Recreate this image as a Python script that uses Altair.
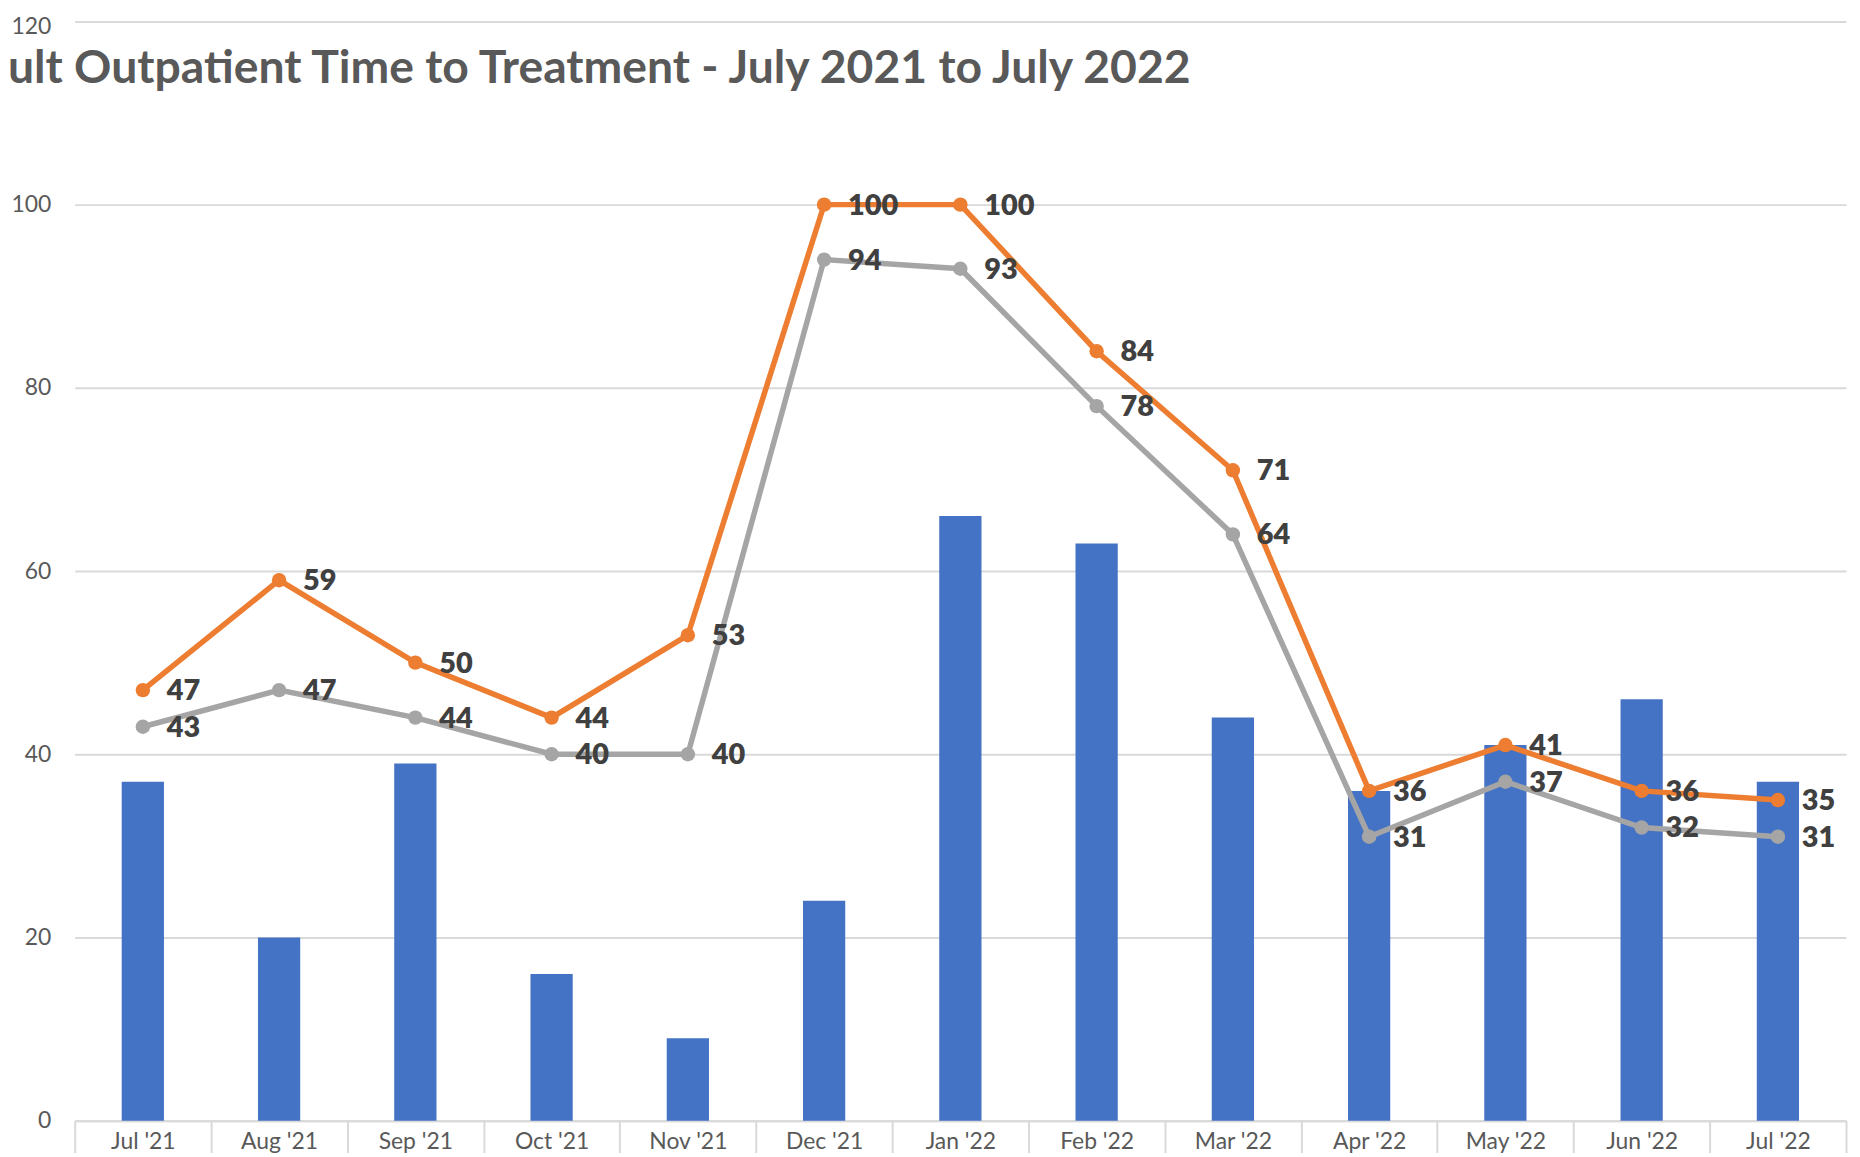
import altair as alt
import pandas as pd

months = ["Jul '21", "Aug '21", "Sep '21", "Oct '21", "Nov '21", "Dec '21", "Jan '22",
          "Feb '22", "Mar '22", "Apr '22", "May '22", "Jun '22", "Jul '22"]
bar_values = [37, 20, 39, 16, 9, 24, 66, 63, 44, 36, 41, 46, 37]
orange_values = [47, 59, 50, 44, 53, 100, 100, 84, 71, 36, 41, 36, 35]
gray_values = [43, 47, 44, 40, 40, 94, 93, 78, 64, 31, 37, 32, 31]
y_ticks = [0, 20, 40, 60, 80, 100, 120]
title_text = "ult Outpatient Time to Treatment - July 2021 to July 2022"

W, H = 1779, 1104
FONT = "Lato"

bars_df = pd.DataFrame({"month": months, "value": bar_values})
lines_df = pd.DataFrame({
    "month": months * 2,
    "value": gray_values + orange_values,
    "series": ["gray"] * len(months) + ["orange"] * len(months),
})

x_scale = alt.Scale(paddingInner=0, paddingOuter=0)
y_scale = alt.Scale(domain=[0, 120], nice=False)

x_enc = alt.X("month:N", sort=months, scale=x_scale, axis=alt.Axis(
    title=None, labelFont=FONT, labelFontSize=23, labelColor="#595959", labelAngle=0,
    domainColor="#D9D9D9", domainWidth=2, tickColor="#D9D9D9", tickWidth=2,
    tickSize=35, tickBand="extent", labelPadding=-25, grid=False))
y_enc = alt.Y("value:Q", scale=y_scale, axis=alt.Axis(
    values=y_ticks, title=None, labelFont=FONT, labelFontSize=23, labelColor="#595959",
    domain=False, ticks=False, gridColor="#D9D9D9", gridWidth=2, labelPadding=24,
    labelOffset={"condition": {"test": "datum.value == 120", "value": 5}, "value": 0}))

color_scale = alt.Scale(domain=["gray", "orange"], range=["#A5A5A5", "#ED7D31"])

bars = alt.Chart(bars_df).mark_bar(color="#4472C4", width=alt.RelativeBandSize(0.31)).encode(
    x=x_enc, y=y_enc)

lines = alt.Chart(lines_df).mark_line(strokeWidth=5.5).encode(
    x=alt.X("month:N", sort=months, scale=x_scale),
    y=alt.Y("value:Q", scale=y_scale),
    color=alt.Color("series:N", scale=color_scale, legend=None),
    detail="series:N")

points = alt.Chart(lines_df).mark_circle(size=210, opacity=1).encode(
    x=alt.X("month:N", sort=months, scale=x_scale),
    y=alt.Y("value:Q", scale=y_scale),
    color=alt.Color("series:N", scale=color_scale, legend=None))

labels = alt.Chart(lines_df).mark_text(
    align="left", baseline="middle", dx=24, dy=1, font=FONT, fontSize=29,
    fontWeight=800, color="#404040").encode(
    x=alt.X("month:N", sort=months, scale=x_scale),
    y=alt.Y("value:Q", scale=y_scale),
    text="value:Q")

title = alt.Chart(pd.DataFrame({"t": [title_text]})).mark_text(
    align="left", baseline="alphabetic", font=FONT, fontSize=46.5, fontWeight="bold",
    color="#595959").encode(x=alt.value(-67), y=alt.value(62), text="t:N")

chart = alt.layer(bars, lines, points, labels, title).properties(
    width=W, height=H,
    autosize=alt.AutoSizeParams(type="none"),
    padding={"left": 67, "top": 11, "right": 6, "bottom": 30},
    background="white",
).configure_view(stroke=None)

chart.save("out.html", embed_options={"renderer": "svg", "actions": False})
